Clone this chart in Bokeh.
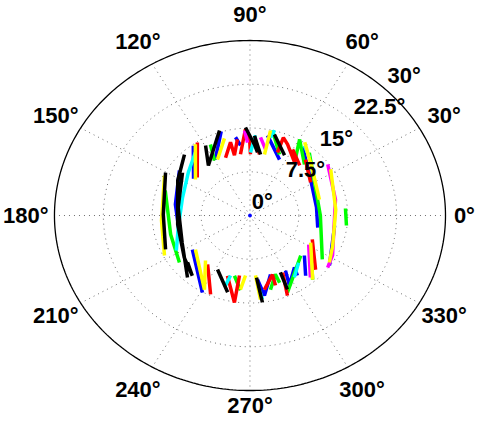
import numpy as np
from bokeh.plotting import figure
from bokeh.models import Range1d
from bokeh.embed import file_html
from bokeh.resources import INLINE
from bokeh.core.properties import value

nan = float("nan")

# ---- axes values ----
r_max = 30
ring_values = [7.5, 15, 22.5, 30]
radial_tick_values = [0, 7.5, 15, 22.5, 30]
radial_tick_labels = ["0°", "7.5°", "15°", "22.5°", "30°"]
spoke_angles = [0, 30, 60, 90, 120, 150, 180, 210, 240, 270, 300, 330]
angle_labels = ["0°", "30°", "60°", "90°", "120°", "150°", "180°", "210°", "240°", "270°", "300°", "330°"]

# ---- data series (theta in degrees, r), NaN separates strokes ----
blue_theta = [126, 144, nan, 119, 107, nan, 99.4, 96.9, nan, 78.9, 64.7, nan, 55.3, 35.1, 7.7, 348.8, nan,
              352.5, 324.9, nan, 300, 296.8, 307.5, 305.3, nan, 320.6, 309.6, nan, 276, 279.2, 287.3, nan,
              213.5, 241.1, nan, 144.5, 170.6, 201.9]
blue_r = [14.8, 10.7, nan, 11.0, 15.1, nan, 13.6, 12.1, nan, 14.0, 10.6, nan, 14.2, 11.3, 10.3, 10.6, nan,
          13.1, 14.9, nan, 10.9, 13.4, 11.2, 12.6, nan, 10.8, 13.4, nan, 11.0, 13.9, 10.6, nan,
          10.6, 15.1, nan, 13.3, 11.6, 11.5]

green_theta = [116.5, 120, nan, 76.7, 66.6, nan, 54.9, 59.7, 46.3, nan, 49.8, 0, 325.9, nan, 4.7, 353.4, nan,
               331, 311.2, nan, 283.9, 291.1, 291.5, nan, 293.5, 318.5, nan, 257, 263.5, nan, 161.7, 195, 216.7]
green_r = [13.6, 10.9, nan, 15.0, 11.4, nan, 12.2, 15.1, 12.1, nan, 14.1, 10.8, 13.4, nan, 14.7, 14.9, nan,
           10.6, 14.6, nan, 13.1, 10.8, 12.4, nan, 14.4, 10.4, nan, 10.6, 12.9, nan, 13.7, 12.6, 13.5]

red_theta = [122.8, 141.1, nan, 110.7, 103.4, 103.0, 98.4, nan, 97.9, 92.7, 90.3, 89.6, nan, 86.3, 82.1, nan,
             68.7, 69.0, 64.7, 53.1, nan, 60, 48.4, nan, 48.4, 31.4, nan, 336.8, 317.3, nan,
             279.9, 288.8, 288.1, nan, 297.1, 292.7, nan, 251.5, 260.9, 261.1, nan, 232.2, 245.9]
red_r = [14.9, 10.4, nan, 10.6, 12.9, 10.6, 13.2, nan, 10.6, 14.8, 13.4, 10.5, nan, 12.9, 10.6, nan,
         11.6, 14.3, 13.5, 11.4, nan, 13.1, 11.5, nan, 12.8, 10.9, nan, 10.4, 13.7, nan,
         12.9, 10.7, 12.6, nan, 11.0, 14.9, nan, 10.9, 15.1, 10.4, nan, 10.6, 14.8]

cyan_theta = [127.7, 142, 163.4, 190.6, 208, nan, 89.6, 86.5, nan, 76.7, 75.5, nan, 55.1, 47.4, nan,
              252.6, 253.8, nan, 275.6, 277.6, nan, 302.7, 312.7]
cyan_r = [13.7, 12.0, 10.8, 11.2, 12.8, nan, 10.8, 13.8, nan, 13.7, 15.1, nan, 14.6, 13.5, nan,
          12.6, 10.7, nan, 11.9, 14.5, nan, 12.6, 11.0]

magenta_theta = [93.3, 91.7, nan, 83.1, 78.1, nan, 36.3, 11.8, 331.6, 323.1, nan, 331, 311.1]
magenta_r = [14.6, 12.5, nan, 13.5, 11.6, nan, 14.8, 13.4, 14.4, 14.9, nan, 10.3, 14.1]

yellow_theta = [124.5, 143.6, nan, 117.5, 106.5, nan, 78, 77.8, nan, 56.2, 39.4, 14.4, nan,
                32.6, 4.5, 337.9, 326.5, nan, 333.5, 311.2, nan, 274.7, 276.4, nan, 263.4, 266.2, nan,
                214.9, 241.2, 228.5, nan, 152.4, 183.6, 207.6]
yellow_r = [14.8, 10.4, nan, 10.8, 13.8, nan, 10.7, 14.9, nan, 15.1, 12.4, 11.0, nan,
            14.7, 13.2, 13.7, 14.6, nan, 10.4, 14.6, nan, 10.3, 14.5, nan, 12.8, 10.3, nan,
            10.2, 14.5, 10.3, nan, 14.8, 13.6, 14.8]

black_theta = [119.6, 126.6, 107.8, nan, 92.6, 86.8, 83.9, nan, 87.1, 81.2, nan, 74.9, 62.8, nan,
               295.6, 294.4, nan, 275.4, 277.3, nan, 241.7, 255.4, nan, 220, 229.4, nan,
               150.4, 179.3, 204.2, nan, 133.9, 151.6, 187.9, 215.6, 229.4, nan, 144.6, 172.9, 204.1, 227.9]
black_r = [13.8, 10.7, 15.3, nan, 15.1, 12.2, 10.9, nan, 13.7, 10.6, nan, 14.4, 11.6, nan,
           10.8, 13.9, nan, 10.7, 15.0, nan, 10.5, 13.6, nan, 12.5, 13.6, nan,
           14.9, 13.3, 14.2, nan, 14.5, 12.6, 11.2, 12.4, 13.6, nan, 12.7, 11.1, 11.4, 14.3]

origin_theta = [0]
origin_r = [0]

series = [
    (blue_theta, blue_r, "#0000ff"),
    (green_theta, green_r, "#00ff00"),
    (red_theta, red_r, "#ff0000"),
    (cyan_theta, cyan_r, "#00ffff"),
    (magenta_theta, magenta_r, "#ff00ff"),
    (yellow_theta, yellow_r, "#ffff00"),
    (black_theta, black_r, "#000000"),
]


def to_xy(theta_deg, r):
    t = np.radians(np.asarray(theta_deg, dtype=float))
    rr = np.asarray(r, dtype=float)
    return rr * np.cos(t), rr * np.sin(t)


W, H = 477, 421
p = figure(width=W, height=H, output_backend="svg", toolbar_location=None,
           x_range=Range1d(-38.28, 34.91), y_range=Range1d(-35.31, 36.86),
           min_border=0, min_border_left=0, min_border_right=0, min_border_top=0, min_border_bottom=0)
p.axis.visible = False
p.grid.visible = False
p.outline_line_color = None
p.background_fill_color = "white"
p.border_fill_color = "white"

# grid rings
circ = np.linspace(0, 360, 361)
for rv in ring_values[:-1]:
    gx, gy = to_xy(circ, [rv] * len(circ))
    p.line(gx, gy, line_color="#6e6e6e", line_width=1, line_dash="1 4")

# spokes
for a in spoke_angles:
    sx, sy = to_xy([a, a], [0, r_max])
    p.line(sx, sy, line_color="#6e6e6e", line_width=1, line_dash="1 4")

# data
for th, rr, col in series:
    x, y = to_xy(th, rr)
    p.line(x, y, line_color=col, line_width=3.5)

ox, oy = to_xy(origin_theta, origin_r)
p.scatter(ox, oy, size=3, color="#0000ff")

# outer ring
ox2, oy2 = to_xy(circ, [r_max] * len(circ))
p.line(ox2, oy2, line_color="black", line_width=1.3)

# angle labels (0° and 270° pulled in slightly so they stay inside the page)
lab_r = [32.9 if a == 0 else (32.6 if a == 270 else 34.4) for a in spoke_angles]
lx, ly = to_xy(spoke_angles, lab_r)
p.text(lx, ly, text=angle_labels, text_align="center", text_baseline="middle",
       text_font=value("Liberation Sans"), text_font_style="bold", text_font_size="22px",
       text_color="black")

# radial labels
rx, ry = to_xy([46] * len(radial_tick_values), [v + 0.4 for v in radial_tick_values])
p.text(rx, ry, text=radial_tick_labels, text_align="left", text_baseline="bottom",
       text_font=value("Liberation Sans"), text_font_style="bold", text_font_size="22px",
       text_color="black")

open("out.html", "w").write(file_html(p, INLINE))
